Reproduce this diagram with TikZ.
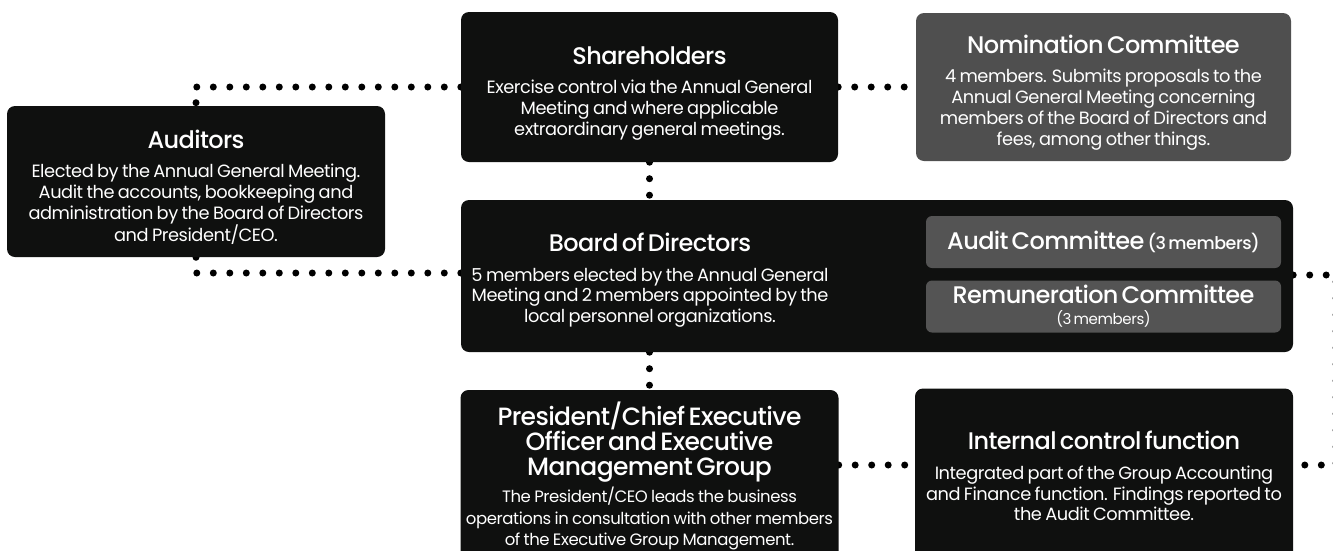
\documentclass[tikz,border=0pt]{standalone}
\usepackage{fontspec}
\usepackage{tikz}
\usetikzlibrary{backgrounds}
\setmainfont{Poppins}[LetterSpace=-2.5, WordSpace=0.55]
\newfontfamily\headfam{Poppins Medium}[LetterSpace=-2.5, WordSpace=0.55]
\definecolor{boxdark}{HTML}{0F100F}
\definecolor{boxgrey}{HTML}{4F4F4F}
\definecolor{subgrey}{HTML}{545454}
\newcommand{\headfont}{\headfam\fontsize{24}{25}\selectfont}
\newcommand{\txtfont}{\fontsize{17.8}{20.7}\selectfont}
\newcommand{\smallfont}{\fontsize{15}{15}\selectfont}
\newcommand{\boxtext}[3][12pt]{{\headfont\rule{0pt}{\dimexpr18pt+#1\relax}#2\par}\vspace{9pt}{\txtfont #3\par}}

\begin{document}
\begin{tikzpicture}[x=1pt, y=-1pt,
	darkbox/.style={fill=boxdark, rounded corners=8, inner sep=0, text=white, text width=372, align=center},
	greybox/.style={darkbox, fill=boxgrey},
	subbox/.style={fill=subgrey, rounded corners=6, inner sep=0, text=white, align=center, minimum width=355, minimum height=52},
	dotline/.style={line width=7, line cap=round, dash pattern=on 0pt off 16.5pt}]
				\useasboundingbox (0,0) rectangle (1333,550);
				% boxes
				\node[darkbox, minimum width=377, minimum height=150] (sh) at (649.5,87) {\boxtext{Shareholders}{Exercise control via the Annual General\\ Meeting and where applicable\\ extraordinary general meetings.}};
				\node[greybox, minimum width=375, minimum height=148] (nom) at (1103.5,87) {\boxtext[11pt]{Nomination Committee}{4 members. Submits proposals to the\\ Annual General Meeting concerning\\ members of the Board of Directors and\\ fees, among other things.}};
				\node[darkbox, minimum width=378, minimum height=151] (aud) at (196,181.5) {\boxtext{Auditors}{Elected by the Annual General Meeting.\\ Audit the accounts, bookkeeping and\\ administration by the Board of Directors\\ and President/CEO.}};
				\node[darkbox, text width=800, minimum width=832, minimum height=152] (board) at (877,276) {};
				\node[text=white, text width=372, align=center, inner sep=0] (boardtxt) at (650,280) {\boxtext[0pt]{Board of Directors}{5 members elected by the Annual General\\ Meeting and 2 members appointed by the\\ local personnel organizations.}};
				\node[subbox] (audit) at (1103.5,242) {\headfont Audit Committee {\fontsize{17.5}{18}\selectfont(3 members)}};
				\node[subbox] (remun) at (1103.5,306.5) {{\headfont Remuneration Committee}\\[6pt]{\smallfont(3 members)}};
				\node[darkbox, text width=378, minimum width=377, minimum height=172] (pres) at (649.5,476) {{\headfam\fontsize{25}{25}\selectfont President/Chief Executive\\ Officer and Executive\\ Management Group\par}\vspace{4pt}{\fontsize{16.5}{21.5}\selectfont The President/CEO leads the business\\ operations in consultation with other members\\ of the Executive Group Management.\par}};
				\node[darkbox, minimum width=378, minimum height=172] (ic) at (1104,474.5) {\boxtext[4pt]{Internal control function}{Integrated part of the Group Accounting\\ and Finance function. Findings reported to\\ the Audit Committee.}};
				\coordinate (edge) at (1336,275);
				% dotted connectors
				\begin{scope}[on background layer]
				\draw[dotline] (sh.west) -| (aud.north);
				\draw[dotline] ([yshift=3pt]board.west) -| (aud.south);
				\draw[dotline] (sh.east) -- (nom.west);
				\draw[dotline] (sh.south) -- (sh.south |- board.north);
				\draw[dotline] (pres.north |- board.south) -- (pres.north);
				\draw[dotline] ([yshift=11pt]pres.east) -- ([yshift=9.5pt]ic.west);
				\draw[dotline] (board.east |- edge) -- (edge) |- ([yshift=9.5pt]ic.east);
				\end{scope}
\end{tikzpicture}
\end{document}
